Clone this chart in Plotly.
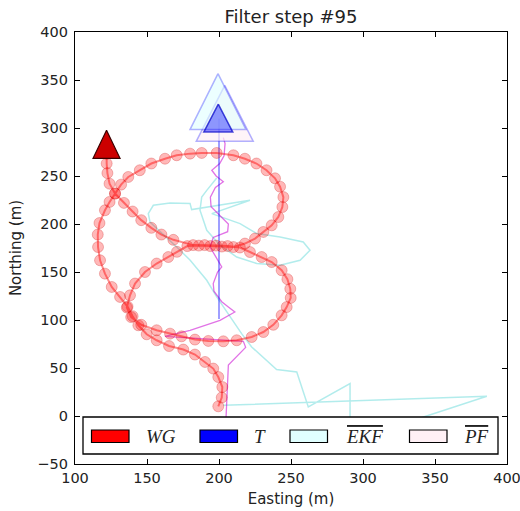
import plotly.graph_objects as go

# ---------------- data ----------------
title_text = "Filter step #95"

wg_e = [199.5, 201.9, 202.3, 199.5, 196.0, 190.3, 183.3, 175.2, 165.3, 156.7, 149.8, 144.0, 140.0, 136.5,
        131.3, 125.5, 120.8, 117.4, 116.0, 115.8, 117.0, 120.8, 124.0, 127.8,
        132.0, 137.0, 145.0, 153.0, 162.5, 170.6, 179.9, 188.0, 198.4, 210.0, 218.0, 226.0, 233.0, 238.9,
        242.4, 244.7, 244.0, 241.2, 236.6, 230.8, 225.0, 218.0, 210.0,
        202.0, 194.0, 186.0, 178.0,
        170.8, 164.8, 156.7, 148.6, 141.7, 138.2, 136.0,
        139.0, 146.0, 156.7, 166.0, 174.0, 183.3, 192.6, 203.0, 212.3, 222.7, 230.8, 237.7, 243.5, 247.0,
        249.8, 249.5, 247.5, 243.5, 236.6, 229.6, 221.5, 214.5,
        206.0, 198.0, 190.0, 182.0,
        168.3, 160.0, 153.0, 146.0, 140.0, 134.0, 127.8, 124.0, 122.5, 122.0, 122.0, 121.9]
wg_n = [10.1, 19.2, 30.2, 40.6, 49.4, 56.3, 64.0, 69.2, 72.9, 78.9, 85.1, 94.5, 104.0, 114.0,
        124.0, 134.4, 148.3, 162.2, 176.0, 189.0, 201.0, 214.3, 223.0, 231.7,
        241.0, 249.0, 256.0, 263.0, 268.0, 271.6, 273.3, 274.0, 274.0, 271.6, 268.0, 263.0, 256.0, 247.6,
        238.9, 228.0, 217.7, 207.3, 198.6, 191.7, 184.8, 179.6, 176.0,
        176.5, 177.0, 177.5, 177.0,
        171.0, 165.6, 158.8, 150.0, 138.0, 125.7, 113.0,
        103.0, 95.0, 89.3, 85.8, 83.0, 79.6, 78.2, 77.8, 78.9, 82.3, 87.5, 95.0, 104.9, 113.5,
        123.0, 132.5, 142.5, 151.8, 160.4, 165.6, 170.8, 175.5,
        177.0, 177.5, 178.0, 178.0,
        183.5, 189.0, 196.0, 204.0, 213.0, 222.0, 231.7, 242.0, 253.0, 263.0, 273.0, 283.0]

t_e = [200.0, 200.0]
t_n = [101.0, 310.0]

ekf_e = [203.0, 386.0, 342.0, 315.0, 291.0, 291.0, 262.0, 254.0, 240.0, 222.7, 215.7, 207.0, 198.4,
         191.5, 180.0, 173.0, 162.0, 152.1, 150.9, 154.4, 166.0, 179.9, 181.0, 221.5, 195.0, 205.3,
         214.6, 226.2, 242.4, 258.5, 263.2, 256.3, 242.4, 226.2, 212.3, 200.7, 191.5, 186.8, 188.0,
         191.5, 194.5, 198.4]
ekf_n = [11.1, 20.5, -1.0, -15.0, -10.0, 33.8, 9.4, 45.8, 48.5, 71.9, 85.8, 105.0, 124.0,
         141.4, 162.2, 172.6, 188.0, 202.0, 210.8, 219.5, 221.9, 221.3, 215.0, 224.7, 210.8, 205.6,
         200.4, 190.0, 186.5, 181.3, 172.6, 162.2, 157.0, 158.8, 165.6, 177.8, 193.4, 214.3, 228.0,
         235.0, 240.5, 248.0]

pf_e = [204.5, 205.5, 206.5, 218.5, 216.9, 162.5, 179.9, 200.7, 211.0, 206.5, 201.9, 196.5, 196.0,
        199.0, 201.9, 197.2, 193.8, 196.0, 206.0, 206.5, 200.0, 194.5, 194.0, 197.5, 203.0, 198.0,
        195.0, 200.5, 203.5, 204.2, 203.0]
pf_n = [-15.0, 30.0, 53.0, 71.5, 77.8, 83.0, 89.3, 99.7, 108.3, 113.5, 119.0, 130.0, 138.0,
        150.0, 155.2, 167.4, 176.0, 186.0, 192.0, 200.0, 210.0, 218.0, 228.0, 238.0, 244.0, 250.0,
        256.0, 263.0, 271.0, 283.7, 290.0]

# current-position markers (centre, data units)
wg_pos = (wg_e[-1], wg_n[-1])
t_pos = (199.5, 310.3)
ekf_pos = (199.3, 327.5)
pf_pos = (204.0, 315.3)

legend_labels = ["<i>WG</i>", "<i>T</i>",
                 "<span style='text-decoration:overline'><i>EKF</i></span>",
                 "<span style='text-decoration:overline'><i>PF</i></span>"]
legend_colors = ["#ff0000", "#0000ff", "#e0ffff", "#fff0f5"]

x_ticks = [100, 150, 200, 250, 300, 350, 400]
y_ticks = [-50, 0, 50, 100, 150, 200, 250, 300, 350, 400]

# ---------------- layout geometry ----------------
W, H = 520, 511
ML, MR, MT, MB = 75, 13, 32, 47
xr = [100, 400]
yr = [-50, 400]
pw, ph = W - ML - MR, H - MT - MB
sx = pw / (xr[1] - xr[0])  # px per unit
sy = ph / (yr[1] - yr[0])


def tri(center, w_px, h_px):
    cx, cy = center
    dx = w_px / 2 / sx
    dy = h_px / 2 / sy
    return [cx, cx - dx, cx + dx, cx], [cy + dy, cy - dy, cy - dy, cy + dy]


fig = go.Figure()

# EKF estimate trail
fig.add_trace(go.Scatter(x=ekf_e, y=ekf_n, mode="lines",
                         line=dict(color="rgba(0,191,191,0.3)", width=1.5),
                         showlegend=False, hoverinfo="skip"))
# PF estimate trail
fig.add_trace(go.Scatter(x=pf_e, y=pf_n, mode="lines",
                         line=dict(color="rgba(200,0,210,0.55)", width=1.3),
                         showlegend=False, hoverinfo="skip"))
# target trail
fig.add_trace(go.Scatter(x=t_e, y=t_n, mode="lines",
                         line=dict(color="rgba(0,0,255,0.5)", width=1.5),
                         showlegend=False, hoverinfo="skip"))
# wave glider trail
fig.add_trace(go.Scatter(x=wg_e, y=wg_n, mode="lines+markers",
                         line=dict(color="rgba(255,0,0,0.45)", width=2),
                         marker=dict(size=11, color="rgba(255,0,0,0.28)",
                                     line=dict(color="rgba(200,0,0,0.25)", width=1)),
                         showlegend=False, hoverinfo="skip"))

# position triangles
px_, py_ = tri(pf_pos, 57, 56)
fig.add_trace(go.Scatter(x=px_, y=py_, mode="lines", fill="toself",
                         fillcolor="rgba(255,240,245,0.7)",
                         line=dict(color="rgba(0,0,255,0.3)", width=1.5),
                         showlegend=False, hoverinfo="skip"))
ex_, ey_ = tri(ekf_pos, 56, 56)
fig.add_trace(go.Scatter(x=ex_, y=ey_, mode="lines", fill="toself",
                         fillcolor="rgba(224,255,255,0.6)",
                         line=dict(color="rgba(0,0,255,0.3)", width=1.5),
                         showlegend=False, hoverinfo="skip"))
tx_, ty_ = tri(t_pos, 29, 28)
fig.add_trace(go.Scatter(x=tx_, y=ty_, mode="lines", fill="toself",
                         fillcolor="rgba(0,0,255,0.4)",
                         line=dict(color="rgba(0,0,200,0.7)", width=1.5),
                         showlegend=False, hoverinfo="skip"))
wx_, wy_ = tri(wg_pos, 27, 28)
fig.add_trace(go.Scatter(x=wx_, y=wy_, mode="lines", fill="toself",
                         fillcolor="#cc0000",
                         line=dict(color="#3a0000", width=1.2),
                         showlegend=False, hoverinfo="skip"))

# ---------------- manual legend ----------------
def xp(p):
    return (p - ML) / pw


def yp(p):
    return (H - MB - p) / ph


shapes = [dict(type="rect", xref="paper", yref="paper",
               x0=xp(83), x1=xp(498), y0=yp(454), y1=yp(417),
               line=dict(color="black", width=1.3), fillcolor="white", layer="above")]
patch_x = [91.5, 200, 290, 409.5]
text_x = [161, 260, 364, 476]
annotations = []
for i in range(4):
    shapes.append(dict(type="rect", xref="paper", yref="paper",
                       x0=xp(patch_x[i]), x1=xp(patch_x[i] + 37.5),
                       y0=yp(442.5), y1=yp(430),
                       line=dict(color="black", width=1.2),
                       fillcolor=legend_colors[i], layer="above"))
    annotations.append(dict(x=xp(text_x[i]), y=yp(436), xref="paper", yref="paper",
                            text=legend_labels[i], showarrow=False,
                            xanchor="center", yanchor="middle",
                            font=dict(family="Liberation Serif", size=19, color="#222")))

axis_common = dict(showline=True, linecolor="black", linewidth=1.3, mirror="ticks",
                   ticks="inside", ticklen=5, tickwidth=1, tickcolor="black",
                   showgrid=False, zeroline=False, ticklabeloverflow="allow",
                   tickfont=dict(family="DejaVu Sans", size=14.5, color="#222"))

fig.update_layout(
    width=W, height=H,
    margin=dict(l=ML, r=MR, t=MT, b=MB, autoexpand=False),
    paper_bgcolor="white", plot_bgcolor="white",
    title=dict(text=title_text, x=(ML + pw / 2) / W, xanchor="center",
               y=1 - 17 / H, yanchor="middle",
               font=dict(family="DejaVu Sans", size=18, color="#222")),
    xaxis=dict(range=xr, tickvals=x_ticks, ticktext=[str(v) for v in x_ticks],
               ticklabelstandoff=0,
               title=dict(text="Easting (m)", standoff=8,
                          font=dict(family="DejaVu Sans", size=15, color="#222")),
               **axis_common),
    yaxis=dict(range=yr, tickvals=y_ticks, ticktext=[("\u2212" + str(-v)) if v < 0 else str(v) for v in y_ticks],
               ticklabelstandoff=3,
               title=dict(text="Northing (m)", standoff=12,
                          font=dict(family="DejaVu Sans", size=15, color="#222")),
               **axis_common),
    shapes=shapes, annotations=annotations,
    showlegend=False,
)

fig.write_html("out.html")
